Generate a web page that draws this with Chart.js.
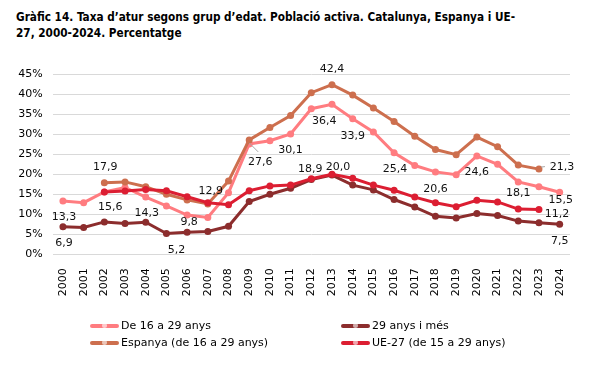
<!DOCTYPE html>
<html>
<head>
<meta charset="utf-8">
<script src="https://cdn.jsdelivr.net/npm/chart.js@4"></script>
<style>
  html,body{margin:0;padding:0;background:#fff;}
  #wrap{position:relative;width:594px;height:371px;overflow:hidden;background:#fff;}
  #title{position:absolute;left:16px;top:9px;font-family:"DejaVu Sans Condensed","DejaVu Sans",sans-serif;font-stretch:condensed;font-weight:bold;font-size:11.7px;line-height:16px;color:#000;white-space:nowrap;}
  #c{position:absolute;left:0;top:0;}
  .lg{position:absolute;font-family:"DejaVu Sans",sans-serif;font-size:11px;color:#000;white-space:nowrap;height:14px;line-height:14px;}
  .lg .ln{position:absolute;left:0;top:5px;width:29px;height:4px;border-radius:2px;}
  .lg .dot{position:absolute;left:12px;top:4px;width:5px;height:5px;border-radius:50%;opacity:0.6;background:#fff;}
  .lg .tx{position:absolute;left:31px;top:0;}
</style>
</head>
<body>
<div id="wrap">
  <div id="title">Gràfic 14. Taxa d’atur segons grup d’edat. Població activa. Catalunya, Espanya i UE-<br>27, 2000-2024. Percentatge</div>
  <canvas id="c" width="594" height="371"></canvas>
</div>
<script>
// ---- data ----
const years = ["2000","2001","2002","2003","2004","2005","2006","2007","2008","2009","2010","2011","2012","2013","2014","2015","2016","2017","2018","2019","2020","2021","2022","2023","2024"];
const seriesNames = ["De 16 a 29 anys", "29 anys i més", "Espanya (de 16 a 29 anys)", "UE-27 (de 15 a 29 anys)"];
const jove16a29 = [13.3, 12.9, 15.6, 16.7, 14.3, 12.1, 9.8, 9.2, 15.4, 27.6, 28.4, 30.1, 36.4, 37.5, 33.9, 30.6, 25.4, 22.2, 20.6, 19.9, 24.6, 22.5, 18.1, 16.9, 15.5];
const majors29 = [6.9, 6.7, 8.1, 7.7, 8.0, 5.2, 5.5, 5.7, 7.0, 13.2, 15.0, 16.5, 18.7, 19.8, 17.3, 16.1, 13.7, 11.8, 9.5, 9.1, 10.2, 9.7, 8.3, 7.9, 7.5];
const espanya = [null, null, 17.9, 18.1, 16.9, 15.0, 13.6, 12.6, 18.3, 28.6, 31.7, 34.7, 40.4, 42.4, 39.8, 36.6, 33.2, 29.5, 26.2, 24.9, 29.3, 26.9, 22.3, 21.3, null];
const ue27 = [null, null, 15.6, 15.8, 16.2, 15.9, 14.4, 12.9, 12.4, 15.9, 17.1, 17.3, 18.9, 20.0, 19.0, 17.3, 16.0, 14.3, 12.9, 11.9, 13.5, 13.1, 11.3, 11.2, null];
const yTicks = [0, 5, 10, 15, 20, 25, 30, 35, 40, 45];
// which points carry a value label: [series index, year index]
const labelledPoints = [[0,0],[1,0],[2,2],[0,2],[0,4],[1,5],[0,6],[3,7],[0,9],[0,11],[0,12],[0,14],[0,16],[0,18],[0,20],[0,22],[0,24],[2,23],[3,23],[1,24],[3,12],[3,13],[2,13]];

// ---- styles ----
const colors = ["#FF7C80", "#8C2D2D", "#CD6F4E", "#DC1E32"];
const drawOrder = [4, 3, 2, 1];
const labelOffsets = [[1,16],[1,16],[1,-16],[6,15],[1,16],[10,17],[2,7],[3,-12],[11,18],[0,16],[13,12],[0,17],[1,16],[0,17],[0,16],[0,11.5],[1,8],[23,-2],[18,4.5],[0,16.5],[-1,-10],[6,-7],[0,-15.5]];
const leaders = {"0,9":[0,-1,9,8], "2,23":[2,-2,6,-2.5]};

const allSeries = [jove16a29, majors29, espanya, ue27];
const FONT = "DejaVu Sans";

const labelPlugin = {
  id: 'valueLabels',
  afterDatasetsDraw(chart) {
    const ctx = chart.ctx;
    ctx.save();
    ctx.font = "11px '" + FONT + "'";
    ctx.fillStyle = "#111";
    ctx.textAlign = "center";
    ctx.textBaseline = "middle";
    labelledPoints.forEach((lp, k) => {
      const [s, i] = lp;
      const el = chart.getDatasetMeta(s).data[i];
      if (!el) return;
      const v = allSeries[s][i];
      const off = labelOffsets[k];
      const ld = leaders[s + "," + i];
      if (ld) {
        ctx.save();
        ctx.strokeStyle = "#A6A6A6";
        ctx.lineWidth = 1;
        ctx.beginPath();
        ctx.moveTo(el.x + ld[0], el.y + ld[1]);
        ctx.lineTo(el.x + ld[2], el.y + ld[3]);
        ctx.stroke();
        ctx.restore();
      }
      ctx.fillText(v.toFixed(1).replace('.', ','), el.x + off[0], el.y + off[1]);
    });
    ctx.restore();
  }
};

const datasets = allSeries.map((d, k) => ({
  label: seriesNames[k],
  data: d,
  borderColor: colors[k],
  backgroundColor: colors[k],
  borderWidth: 3,
  pointRadius: 3.5,
  pointBorderWidth: 0,
  pointBackgroundColor: colors[k],
  tension: 0,
  spanGaps: false,
  order: drawOrder[k]
}));

new Chart(document.getElementById('c'), {
  type: 'line',
  data: { labels: years, datasets },
  options: {
    responsive: false,
    animation: false,
    devicePixelRatio: 1,
    layout: { padding: { left: 0, right: 24, top: 74.3, bottom: 0 } },
    plugins: { legend: { display: false }, title: { display: false }, tooltip: { enabled: false } },
    scales: {
      x: {
        offset: true,
        grid: { display: false },
        border: { display: false },
        ticks: { autoSkip: false, minRotation: 90, maxRotation: 90, padding: 6, color: "#000", font: { family: FONT, size: 11 } },
        afterFit(s) { s.height = 116.7; }
      },
      y: {
        min: 0, max: 45,
        afterBuildTicks(s) { s.ticks = yTicks.map(v => ({ value: v })); },
        grid: { color: "#D9D9D9", lineWidth: 1, drawTicks: false },
        border: { display: false },
        ticks: { padding: 10, color: "#000", font: { family: FONT, size: 11 }, callback: v => v + "%" },
        afterFit(s) { s.width = 52.6; }
      }
    }
  },
  plugins: [labelPlugin]
});

// HTML legend built from series names/colors
const legendPos = [[90, 319], [341, 319], [90, 335.5], [341, 335.5]];
const wrap = document.getElementById('wrap');
seriesNames.forEach((n, k) => {
  const d = document.createElement('div');
  d.className = 'lg';
  d.style.left = legendPos[k][0] + 'px';
  d.style.top = legendPos[k][1] + 'px';
  d.innerHTML = '<span class="ln" style="background:' + colors[k] + '"></span><span class="dot"></span><span class="tx"></span>';
  d.querySelector('.tx').textContent = n;
  wrap.appendChild(d);
});
</script>
</body>
</html>
